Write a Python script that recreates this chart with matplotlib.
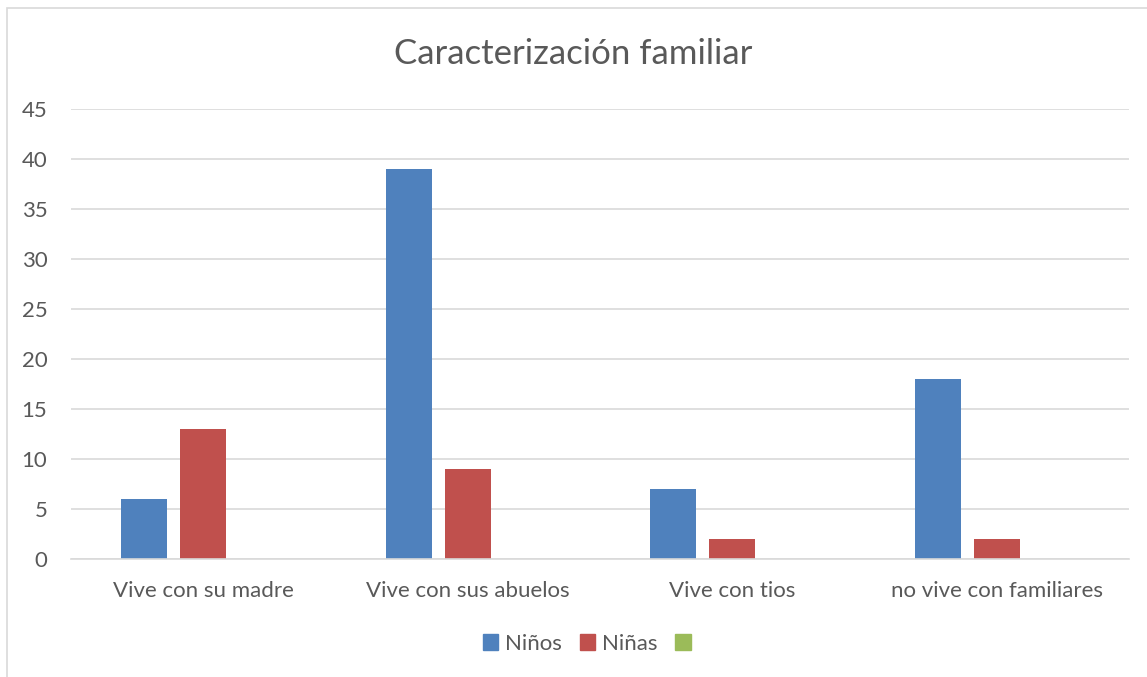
import numpy as np
import matplotlib.pyplot as plt
from matplotlib.patches import Rectangle, Patch

categorias = ["Vive con su madre", "Vive con sus abuelos", "Vive con tios", "no vive con familiares"]
ninos = [6, 39, 7, 18]
ninas = [13, 9, 2, 2]
serie3 = [0, 0, 0, 0]

plt.rcParams['font.family'] = ['Lato', 'DejaVu Sans']
gris = "#595959"

fig = plt.figure(figsize=(11.47, 6.77), dpi=100)
ax = fig.add_axes([71/1147, 1-559/677, (1129-71)/1147, 450/677])

x = np.arange(len(categorias))
w = 46/264.5
paso = 59/264.5
ax.bar(x - paso, ninos, w, color="#4F81BD", label="Niños")
ax.bar(x, ninas, w, color="#C0504D", label="Niñas")
ax.bar(x + paso, serie3, w, color="#9BBB59", label=" ")

ax.set_xlim(-0.5, 3.5)
ax.set_ylim(0, 45)
ax.set_yticks(range(0, 46, 5))
ax.set_xticks(x)
ax.set_xticklabels(categorias)
ax.yaxis.grid(True, color="#D9D9D9", linewidth=1.2)
ax.set_axisbelow(True)
for s in ["top", "right", "left"]:
    ax.spines[s].set_visible(False)
ax.spines["bottom"].set_color("#D9D9D9")
ax.spines["bottom"].set_linewidth(1.2)
ax.tick_params(axis="both", length=0, labelsize=16, colors=gris)
ax.tick_params(axis="x", pad=16)
ax.tick_params(axis="y", pad=17)

fig.text(0.5, 1-54/677, "Caracterización familiar", ha="center", va="center",
         fontsize=25, color=gris)

handles = [Patch(color="#4F81BD", label="Niños"),
           Patch(color="#C0504D", label="Niñas"),
           Patch(color="#9BBB59", label="")]
fig.legend(handles=handles, loc="center", bbox_to_anchor=(590/1147, 1-644/677),
           ncol=3, frameon=False, fontsize=16, labelcolor=gris,
           handlelength=0.7, handleheight=0.7, handletextpad=0.3, columnspacing=0.8)

# marco del gráfico
fig.add_artist(Rectangle((7/1147, -0.1), 1.2, 1-8/677+0.1, transform=fig.transFigure,
                         fill=False, edgecolor="#D9D9D9", linewidth=1.2))

fig.savefig("out.png", dpi=100)
